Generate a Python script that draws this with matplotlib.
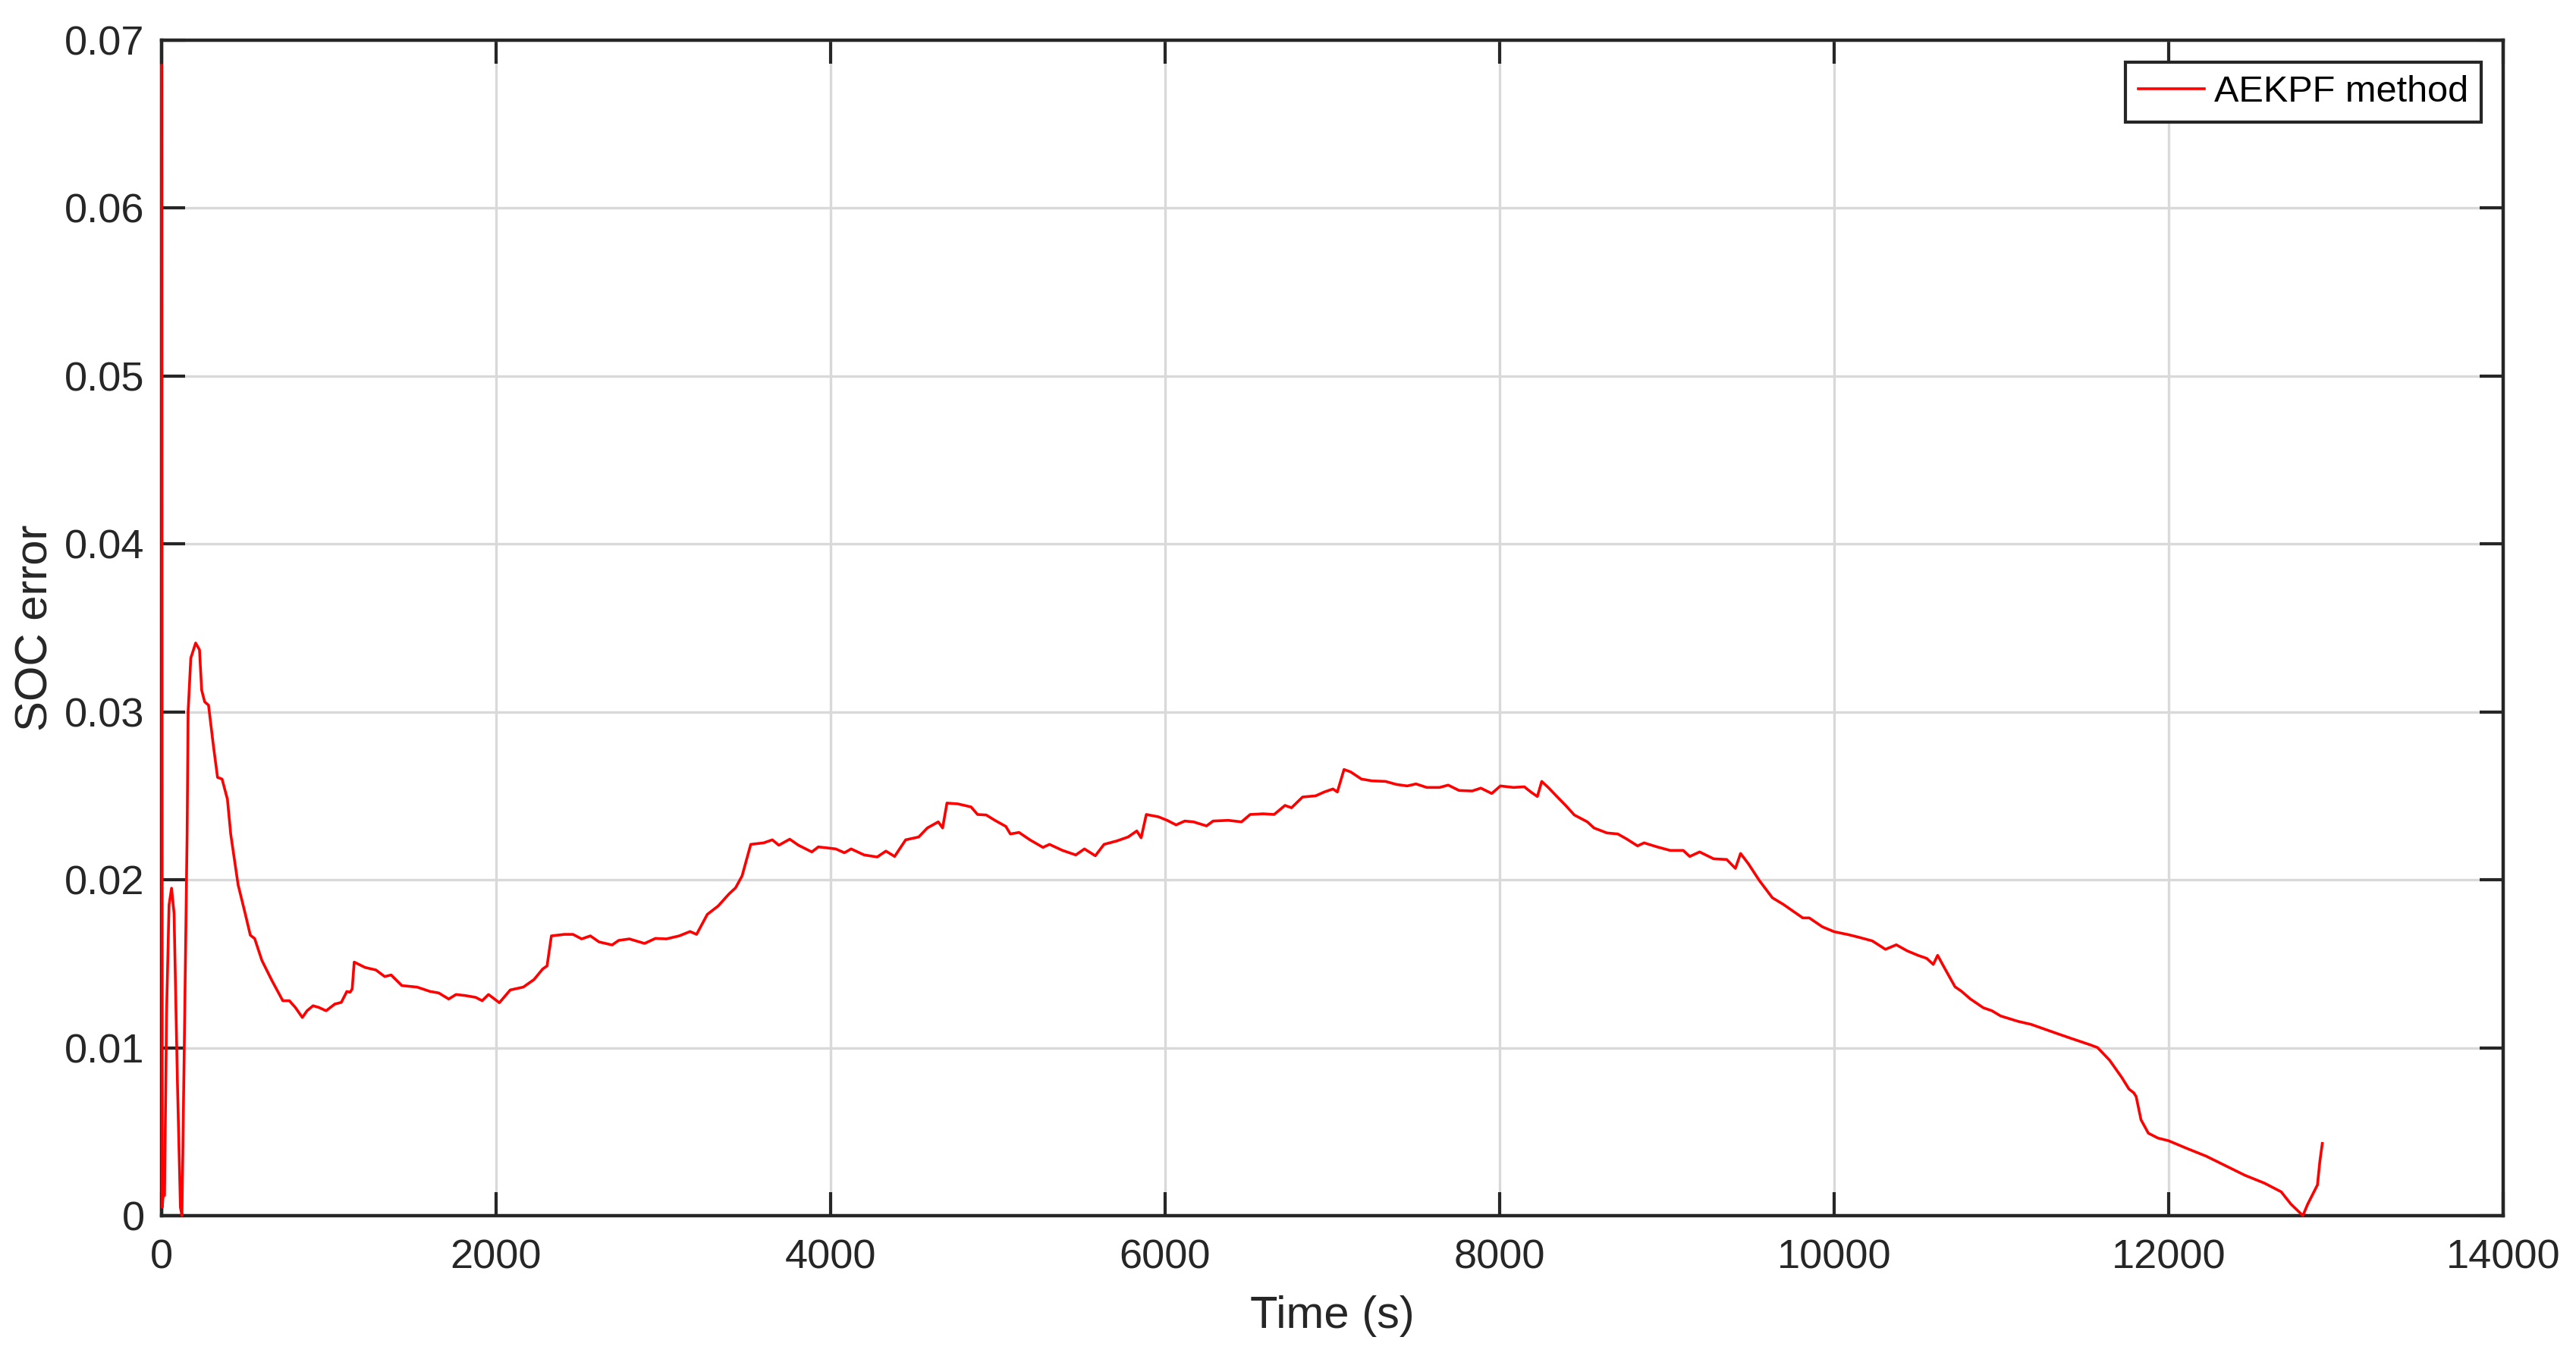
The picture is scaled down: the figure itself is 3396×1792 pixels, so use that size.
import matplotlib
matplotlib.use('Agg')
import matplotlib.pyplot as plt

plt.rcParams['font.family'] = ['Liberation Sans', 'DejaVu Sans']

# 读数：时间 (s) 与 SOC 误差
time_s = [0, 4, 10, 18, 30, 45, 60, 75, 95, 113, 122, 136, 153, 159, 175, 204, 227, 240,
          258, 281, 310, 335, 362, 394, 414, 458, 500, 531, 557, 600, 660, 725, 764, 800,
          842, 870, 906, 940, 984, 1036, 1075, 1108, 1127, 1140, 1152, 1217, 1282, 1334,
          1373, 1437, 1528, 1606, 1658, 1717, 1761, 1820, 1878, 1917, 1955, 2020, 2085,
          2163, 2227, 2279, 2305, 2331, 2409, 2460, 2512, 2564, 2616, 2694, 2733, 2797,
          2888, 2953, 3018, 3095, 3160, 3199, 3263, 3328, 3393, 3432, 3471, 3523, 3600,
          3652, 3691, 3756, 3808, 3888, 3927, 4031, 4083, 4123, 4201, 4279, 4331, 4383,
          4449, 4527, 4579, 4644, 4670, 4696, 4762, 4840, 4879, 4931, 4983, 5048, 5075,
          5127, 5192, 5270, 5309, 5387, 5466, 5518, 5583, 5635, 5713, 5779, 5831, 5857,
          5888, 5961, 6013, 6066, 6118, 6170, 6248, 6287, 6378, 6457, 6509, 6587, 6652,
          6717, 6756, 6822, 6900, 6952, 7004, 7030, 7070, 7109, 7174, 7239, 7318, 7383,
          7448, 7500, 7565, 7641, 7693, 7758, 7836, 7888, 7953, 8005, 8083, 8148, 8187,
          8226, 8252, 8291, 8343, 8395, 8447, 8525, 8564, 8642, 8707, 8760, 8825, 8864,
          8942, 9020, 9098, 9137, 9196, 9280, 9358, 9410, 9441, 9488, 9553, 9631, 9696,
          9813, 9852, 9930, 10000, 10087, 10151, 10229, 10307, 10372, 10437, 10502, 10554,
          10593, 10619, 10658, 10723, 10762, 10814, 10892, 10944, 10996, 11100, 11178,
          11269, 11329, 11416, 11532, 11575, 11647, 11720, 11763, 11792, 11806, 11835,
          11879, 11936, 12000, 12110, 12225, 12341, 12457, 12572, 12673, 12731, 12803,
          12832, 12890, 12904, 12919]

soc_err = [0.0685, 0.0005, 0.0012, 0.0012, 0.0120, 0.0185, 0.0195, 0.0180, 0.0080, 0.0005,
           0.0000, 0.0100, 0.0227, 0.0300, 0.0332, 0.0341, 0.0337, 0.0313, 0.0306, 0.0304,
           0.0280, 0.0261, 0.0260, 0.0248, 0.0227, 0.0197, 0.0180, 0.0167, 0.0165, 0.0152,
           0.0140, 0.0128, 0.0128, 0.0124, 0.0118, 0.0122, 0.0125, 0.0124, 0.0122, 0.0126,
           0.0127, 0.01335, 0.0133, 0.0135, 0.0151, 0.01478, 0.01463, 0.01424, 0.01433,
           0.0137, 0.01361, 0.01335, 0.01326, 0.0129, 0.01317, 0.0131, 0.0130, 0.0128,
           0.01317, 0.01268, 0.01344, 0.01361, 0.01406, 0.01469, 0.01487, 0.01666, 0.01675,
           0.01675, 0.01648, 0.01666, 0.0163, 0.01612, 0.01639, 0.01648, 0.01621, 0.01651,
           0.01648, 0.01666, 0.01692, 0.01675, 0.01794, 0.01844, 0.01916, 0.01952, 0.02023,
           0.02211, 0.0222, 0.02238, 0.02206, 0.02242, 0.02206, 0.02166, 0.02196, 0.02184,
           0.02161, 0.02184, 0.02148, 0.02136, 0.02171, 0.02139, 0.02238, 0.02255, 0.02309,
           0.02345, 0.02309, 0.02457, 0.02452, 0.02434, 0.02389, 0.02386, 0.02354, 0.02318,
           0.02273, 0.02282, 0.02238, 0.02193, 0.02211, 0.02175, 0.02148, 0.02184, 0.02143,
           0.02211, 0.02232, 0.02255, 0.02291, 0.0225, 0.02389, 0.02375, 0.02354, 0.02327,
           0.0235, 0.02345, 0.02321, 0.0235, 0.02354, 0.02345, 0.02389, 0.02393, 0.02389,
           0.02443, 0.02429, 0.02493, 0.025, 0.02523, 0.02541, 0.02523, 0.02657, 0.02643,
           0.026, 0.02589, 0.02586, 0.02568, 0.02559, 0.02571, 0.0255, 0.0255, 0.02564,
           0.02532, 0.02529, 0.02546, 0.02514, 0.02559, 0.0255, 0.02554, 0.02523, 0.02496,
           0.02586, 0.0255, 0.02496, 0.02443, 0.02386, 0.02345, 0.02309, 0.02279, 0.02273,
           0.02243, 0.02202, 0.0222, 0.02196, 0.02175, 0.02175, 0.02139, 0.02166, 0.02125,
           0.02121, 0.02068, 0.02157, 0.02095, 0.01996, 0.01893, 0.01854, 0.01773, 0.01773,
           0.0172, 0.01691, 0.01673, 0.01657, 0.01636, 0.01586, 0.01613, 0.01577, 0.0155,
           0.01532, 0.01496, 0.0155, 0.01479, 0.01363, 0.01336, 0.01291, 0.01238, 0.0122,
           0.01189, 0.01157, 0.01139, 0.01107, 0.01086, 0.01056, 0.01017, 0.01001, 0.00926,
           0.00823, 0.00754, 0.00731, 0.00709, 0.00571, 0.00491, 0.00462, 0.00446, 0.0040,
           0.00354, 0.00297, 0.0024, 0.00194, 0.00142, 0.00069, 0.0, 0.00069, 0.00183,
           0.0032, 0.0043]

x_ticks = [0, 2000, 4000, 6000, 8000, 10000, 12000, 14000]
y_ticks = [0, 0.01, 0.02, 0.03, 0.04, 0.05, 0.06, 0.07]
y_tick_labels = ['0', '0.01', '0.02', '0.03', '0.04', '0.05', '0.06', '0.07']

fig = plt.figure(figsize=(16.98, 8.96), dpi=200)
ax = fig.add_axes([0.0627, 0.1055, 0.909, 0.8649])

# 曲线画在边框之上，起始尖峰贴着左边框也能看见
ax.plot(time_s, soc_err, color='red', linewidth=1.3, label='AEKPF method',
        zorder=3, clip_on=False)

ax.set_xlim(0, 14000)
ax.set_ylim(0, 0.07)
ax.set_xticks(x_ticks)
ax.set_xticklabels([str(v) for v in x_ticks])
ax.set_yticks(y_ticks)
ax.set_yticklabels(y_tick_labels)

ax.grid(True, color='#d9d9d9', linewidth=1.2)
ax.set_axisbelow(True)
ax.tick_params(direction='in', length=11, width=1.5, top=True, right=True,
               labelsize=19.5, colors='#262626', pad=8)
ax.tick_params(axis='x', pad=11)
for s in ax.spines.values():
    s.set_linewidth(1.6)
    s.set_color('#262626')
    s.set_zorder(2.5)

ax.set_xlabel('Time (s)', fontsize=21.5, color='#262626', labelpad=9)
ax.set_ylabel('SOC error', fontsize=21.5, color='#262626', labelpad=4)

leg = ax.legend(loc='upper right', fontsize=17.5, fancybox=False, framealpha=1,
                edgecolor='#262626', handlelength=1.8, handletextpad=0.25,
                borderpad=0.35, borderaxespad=0.6)
leg.get_frame().set_linewidth(1.5)
leg.set_zorder(5)

fig.savefig('out.png', dpi=200)
